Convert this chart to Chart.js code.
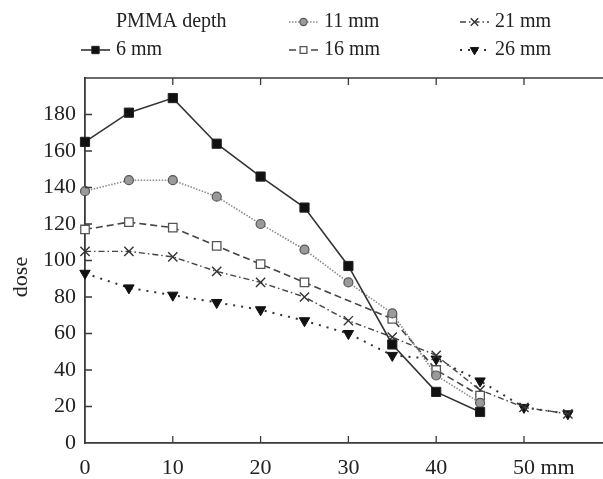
<!DOCTYPE html>
<html><head><meta charset="utf-8">
<script src="https://cdn.jsdelivr.net/npm/chart.js@4/dist/chart.umd.min.js"></script>
<style>html,body{margin:0;padding:0;background:#fff;overflow:hidden}#wrap{width:603px;height:479px;position:relative}</style>
</head><body><div id="wrap"><canvas id="c" width="603" height="479"></canvas></div>
<script>
const DEPTHS_MM = [0,5,10,15,20,25,30,35,40,45,50,55];
const SERIES_LABELS = ['6 mm','11 mm','16 mm','21 mm','26 mm'];
const DOSE_6  = [165,181,189,164,146,129,97,54,28,17];
const DOSE_11 = [138,144,144,135,120,106,88,71,37,22];
const DOSE_16 = [117,121,118,108,98,88,null,68,40,26];
const DOSE_21 = [105,105,102,94,88,80,67,58,48,29,19.5,16];
const DOSE_26 = [93,85,81,77,73,67,60,48,46,34,19.5,16];
const X_TICKS = [0,10,20,30,40,50];
const Y_TICKS = [0,20,40,60,80,100,120,140,160,180];
const LEGEND_TITLE = 'PMMA depth';
const X_UNIT = 'mm';
const Y_TITLE = 'dose';

const FONT = "'Liberation Serif', 'DejaVu Serif', serif";
const AXIS_COLOR = '#3a3a3a';

function pts(vals){
  const out = [];
  vals.forEach((v,i)=>{ if(v!==null) out.push({x:DEPTHS_MM[i], y:v}); });
  return out;
}

const datasets = [
  {label:SERIES_LABELS[0], data:pts(DOSE_6), borderColor:'#333', borderWidth:1.6, borderDash:[],
   pointStyle:'rect', pointRadius:6.5, pointBackgroundColor:'#111', pointBorderColor:'#222', pointBorderWidth:1},
  {label:SERIES_LABELS[1], data:pts(DOSE_11), borderColor:'#8a8a8a', borderWidth:1.6, borderDash:[1.5,1.5],
   pointStyle:'circle', pointRadius:4.5, pointBackgroundColor:'#9a9a9a', pointBorderColor:'#555', pointBorderWidth:1.2},
  {label:SERIES_LABELS[2], data:pts(DOSE_16), borderColor:'#444', borderWidth:1.6, borderDash:[7,4],
   pointStyle:'rect', pointRadius:6, pointBackgroundColor:'#fff', pointBorderColor:'#555', pointBorderWidth:1.3},
  {label:SERIES_LABELS[3], data:pts(DOSE_21), borderColor:'#444', borderWidth:1.4, borderDash:[6,3,1.5,3],
   pointStyle:'crossRot', pointRadius:6.5, pointBackgroundColor:'#333', pointBorderColor:'#333', pointBorderWidth:1.4},
  {label:SERIES_LABELS[4], data:pts(DOSE_26), borderColor:'#333', borderWidth:2, borderDash:[2,6],
   pointStyle:'triangle', pointRotation:180, pointRadius:6, pointBackgroundColor:'#111', pointBorderColor:'#111', pointBorderWidth:1}
];
datasets.forEach(d=>{ d.fill=false; d.tension=0; d.spanGaps=true; d.pointHoverRadius=d.pointRadius; d.clip=false; });

const decor = {
  id:'decor',
  afterDraw(chart){
    const ctx = chart.ctx, a = chart.chartArea;
    const xs = chart.scales.x, ys = chart.scales.y;
    ctx.save();
    // top border
    ctx.strokeStyle = AXIS_COLOR; ctx.lineWidth = 1.6; ctx.setLineDash([]);
    ctx.beginPath(); ctx.moveTo(a.left, a.top); ctx.lineTo(chart.width, a.top); ctx.stroke();
    // inward ticks
    ctx.lineWidth = 1.3;
    ctx.beginPath();
    X_TICKS.forEach(v=>{ if(v===0) return; const px = xs.getPixelForValue(v);
      ctx.moveTo(px, a.bottom); ctx.lineTo(px, a.bottom-7);
      ctx.moveTo(px, a.top); ctx.lineTo(px, a.top+7); });
    Y_TICKS.forEach(v=>{ if(v===0) return; const py = ys.getPixelForValue(v);
      ctx.moveTo(a.left, py); ctx.lineTo(a.left+7, py); });
    ctx.stroke();
    // unit after last x label
    ctx.fillStyle = '#222';
    ctx.font = "22px " + FONT;
    ctx.textBaseline = 'alphabetic';
    const last = X_TICKS[X_TICKS.length-1];
    const lw = ctx.measureText(String(last)).width;
    const lx = xs.getPixelForValue(last) + lw/2 + ctx.measureText(' ').width;
    ctx.textAlign = 'left';
    ctx.fillText(X_UNIT, lx, 474);
    // y title
    ctx.save();
    ctx.translate(27, 277); ctx.rotate(-Math.PI/2);
    ctx.textAlign = 'center'; ctx.textBaseline = 'alphabetic';
    ctx.fillText(Y_TITLE, 0, 0);
    ctx.restore();
    // legend (column-major grid)
    ctx.font = "20px " + FONT;
    ctx.textAlign = 'left'; ctx.textBaseline = 'middle';
    const colX = [116, 324, 495];
    const rowY = [22, 50];
    ctx.fillText(LEGEND_TITLE, colX[0], rowY[0]);
    const slots = [[0,1],[1,0],[1,1],[2,0],[2,1]];
    datasets.forEach((d,i)=>{
      const [c,r] = slots[i];
      const tx = colX[c], ty = rowY[r];
      const x0 = tx-35, x1 = tx-6, xm = (x0+x1)/2;
      ctx.strokeStyle = d.borderColor; ctx.lineWidth = d.borderWidth;
      ctx.setLineDash(d.borderDash);
      ctx.beginPath(); ctx.moveTo(x0, ty); ctx.lineTo(x1, ty); ctx.stroke();
      ctx.setLineDash([]);
      ctx.fillStyle = d.pointBackgroundColor; ctx.strokeStyle = d.pointBorderColor; ctx.lineWidth = d.pointBorderWidth;
      Chart.helpers.drawPoint(ctx, {pointStyle:d.pointStyle, radius:d.pointRadius*0.8, rotation:d.pointRotation||0, borderWidth:d.pointBorderWidth}, xm, ty);
      ctx.fillStyle = '#222';
      ctx.fillText(d.label, tx, ty);
    });
    ctx.restore();
  }
};

new Chart(document.getElementById('c'), {
  type:'line',
  data:{datasets},
  plugins:[decor],
  options:{
    responsive:false, animation:false, devicePixelRatio:1,
    layout:{autoPadding:false, padding:{top:78,left:0,right:0,bottom:0}},
    plugins:{legend:{display:false}, tooltip:{enabled:false}},
    scales:{
      x:{type:'linear', min:0, max:59,
        afterBuildTicks:s=>{ s.ticks = X_TICKS.map(v=>({value:v})); },
        afterFit:s=>{ s.height = 36; s.paddingLeft = 0; s.paddingRight = 0; },
        grid:{display:false, drawTicks:false},
        border:{display:true, color:AXIS_COLOR, width:1.8},
        ticks:{padding:12, color:'#222', font:{family:FONT, size:22}, maxRotation:0, callback:v=>String(v)}},
      y:{type:'linear', min:0, max:200,
        afterBuildTicks:s=>{ s.ticks = Y_TICKS.map(v=>({value:v})); },
        afterFit:s=>{ s.width = 85; s.paddingTop = 0; s.paddingBottom = 0; },
        grid:{display:false, drawTicks:false},
        border:{display:true, color:AXIS_COLOR, width:1.8},
        ticks:{padding:9, color:'#222', font:{family:FONT, size:22}, callback:v=>String(v)}}
    }
  }
});
</script></body></html>
